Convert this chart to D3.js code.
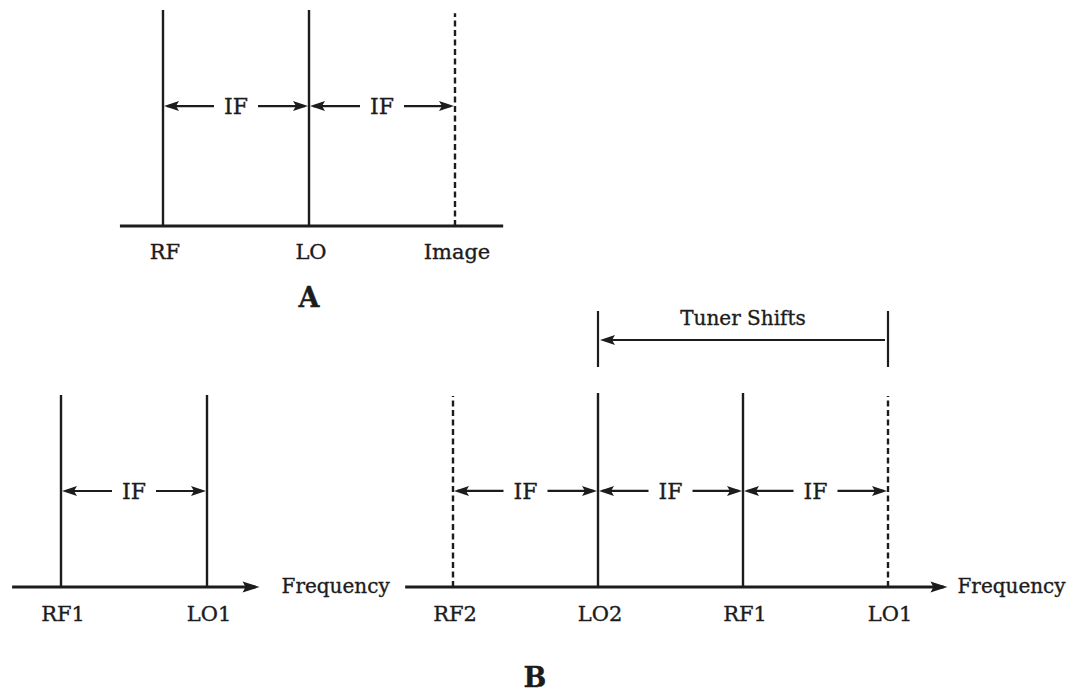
<!DOCTYPE html>
<html>
<head>
<meta charset="utf-8">
<script src="https://cdn.jsdelivr.net/npm/d3@7"></script>
<style>
  html, body { margin: 0; padding: 0; background: #ffffff; }
  svg { display: block; }
  text { font-family: "DejaVu Serif", "Liberation Serif", serif; fill: #1c1c1c; stroke: #1c1c1c; stroke-width: 0.35px; }
</style>
</head>
<body>
<script>
// ---------- DATA (frequencies in IF units) ----------
const panelANames   = ["RF", "LO", "Image"];
const panelAFreqs   = [0, 1, 2];
const panelADashed  = [false, false, true];
const panelAIF      = [[0, 1], [1, 2]];

const panelBLeftNames  = ["RF1", "LO1"];
const panelBLeftFreqs  = [0, 1];
const panelBLeftDashed = [false, false];
const panelBLeftIF     = [[0, 1]];

const panelBRightNames  = ["RF2", "LO2", "RF1", "LO1"];
const panelBRightFreqs  = [0, 1, 2, 3];
const panelBRightDashed = [true, false, false, true];
const panelBRightIF     = [[0, 1], [1, 2], [2, 3]];
const tunerShift        = [3, 1];   // LO1 -> LO2

const axisLabel  = "Frequency";
const ifLabel    = "IF";
const tunerLabel = "Tuner Shifts";
const panelTitles = ["A", "B"];

// ---------- SETUP ----------
const W = 1079, H = 693;
const ink = "#1c1c1c";
const svg = d3.select("body").append("svg").attr("width", W).attr("height", H);

const arrowLen = 15, arrowHalf = 5;

function arrowHead(g, tipX, y, dir) { // dir: -1 left, +1 right
  const bx = tipX - dir * arrowLen;
  g.append("path")
    .attr("d", `M${tipX},${y}L${bx},${y - arrowHalf}L${bx + dir * 3},${y}L${bx},${y + arrowHalf}Z`)
    .attr("fill", ink);
}

function ifArrow(g, x1, x2, y) {
  const mid = (x1 + x2) / 2, gap = 22;
  g.append("line").attr("x1", x1 + 4).attr("x2", mid - gap).attr("y1", y).attr("y2", y)
    .attr("stroke", ink).attr("stroke-width", 2.2);
  g.append("line").attr("x1", mid + gap).attr("x2", x2 - 4).attr("y1", y).attr("y2", y)
    .attr("stroke", ink).attr("stroke-width", 2.2);
  arrowHead(g, x1 + 1, y, -1);
  arrowHead(g, x2 - 1, y, 1);
  g.append("text").attr("x", mid).attr("y", y).attr("dy", "0.36em")
    .attr("text-anchor", "middle").attr("font-size", 22).text(ifLabel);
}

function panel(opts) {
  const g = svg.append("g");
  const x = d3.scaleLinear().domain([0, 1]).range([opts.x0, opts.x0 + opts.step]);
  const y = d3.scaleLinear().domain([0, 1]).range([opts.axisY, opts.topY]);

  // axis line
  g.append("line")
    .attr("x1", x(opts.axisFrom)).attr("x2", x(opts.axisTo) - (opts.arrow ? 4 : 0))
    .attr("y1", y(0)).attr("y2", y(0))
    .attr("stroke", ink).attr("stroke-width", 2.8);
  if (opts.arrow) {
    const tip = x(opts.axisTo);
    g.append("path")
      .attr("d", `M${tip},${y(0)}L${tip - 17},${y(0) - 5.5}L${tip - 14},${y(0)}L${tip - 17},${y(0) + 5.5}Z`)
      .attr("fill", ink);
  }
  if (opts.axisText) {
    g.append("text").attr("x", x(opts.axisTo) + opts.textGap).attr("y", y(0)).attr("dy", "0.3em")
      .attr("font-size", 20).text(axisLabel);
  }

  // spectral lines
  opts.freqs.forEach((f, i) => {
    g.append("line")
      .attr("x1", x(f)).attr("x2", x(f))
      .attr("y1", y(0)).attr("y2", y(opts.dashed[i] ? 0.985 : 1))
      .attr("stroke", ink)
      .attr("stroke-width", 2.4)
      .attr("stroke-dasharray", opts.dashed[i] ? "6,3.5" : null);
    g.append("text").attr("x", x(f) + 2).attr("y", y(0) + opts.labelOffset).attr("dy", "0.35em")
      .attr("text-anchor", "middle").attr("font-size", 21).text(opts.names[i]);
  });

  // IF arrows
  opts.ifs.forEach(([a, b]) => ifArrow(g, x(a), x(b), y(opts.ifLevel)));
  return { x, y, g };
}

// ---------- PANEL A ----------
const pA = panel({
  x0: 163, step: 146, axisY: 226, topY: 10,
  axisFrom: -0.295, axisTo: 2.33, arrow: false, axisText: false, textGap: 0,
  freqs: panelAFreqs, names: panelANames, dashed: panelADashed,
  ifs: panelAIF, ifLevel: 0.555, labelOffset: 26
});
svg.append("text").attr("x", pA.x(1)).attr("y", 298).attr("dy", "0.35em")
  .attr("text-anchor", "middle").attr("font-size", 27).attr("font-weight", "bold").text(panelTitles[0]);

// ---------- PANEL B (left) ----------
panel({
  x0: 61, step: 146, axisY: 587, topY: 395,
  axisFrom: -0.335, axisTo: 1.36, arrow: true, axisText: true, textGap: 22,
  freqs: panelBLeftFreqs, names: panelBLeftNames, dashed: panelBLeftDashed,
  ifs: panelBLeftIF, ifLevel: 0.5, labelOffset: 27
});

// ---------- PANEL B (right) ----------
const pB = panel({
  x0: 453, step: 145, axisY: 587, topY: 393,
  axisFrom: -0.33, axisTo: 3.41, arrow: true, axisText: true, textGap: 10,
  freqs: panelBRightFreqs, names: panelBRightNames, dashed: panelBRightDashed,
  ifs: panelBRightIF, ifLevel: 0.495, labelOffset: 27
});

// Tuner shift bracket
const tg = svg.append("g");
const tY = 340, tTop = 311, tBot = 367;
tunerShift.forEach(f => {
  tg.append("line").attr("x1", pB.x(f)).attr("x2", pB.x(f)).attr("y1", tTop).attr("y2", tBot)
    .attr("stroke", ink).attr("stroke-width", 2.2);
});
tg.append("line").attr("x1", pB.x(tunerShift[0]) - 3).attr("x2", pB.x(tunerShift[1]) + 6)
  .attr("y1", tY).attr("y2", tY).attr("stroke", ink).attr("stroke-width", 2.2);
arrowHead(tg, pB.x(tunerShift[1]) + 2, tY, -1);
tg.append("text").attr("x", (pB.x(tunerShift[0]) + pB.x(tunerShift[1])) / 2).attr("y", 318).attr("dy", "0.35em")
  .attr("text-anchor", "middle").attr("font-size", 20).text(tunerLabel);

svg.append("text").attr("x", 535).attr("y", 678).attr("dy", "0.35em")
  .attr("text-anchor", "middle").attr("font-size", 27).attr("font-weight", "bold").text(panelTitles[1]);
</script>
</body>
</html>
